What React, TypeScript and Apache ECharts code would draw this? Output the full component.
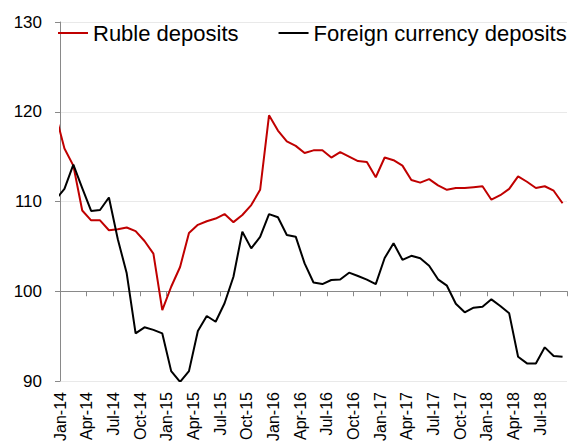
import React, { useEffect, useRef } from "react";
import * as echarts from "echarts";

// Monthly points, Dec-13 (partly visible, clipped at the axis) to Sep-18
const months = [
  "Dec-13",
  "Jan-14","Feb-14","Mar-14","Apr-14","May-14","Jun-14","Jul-14","Aug-14","Sep-14","Oct-14","Nov-14","Dec-14",
  "Jan-15","Feb-15","Mar-15","Apr-15","May-15","Jun-15","Jul-15","Aug-15","Sep-15","Oct-15","Nov-15","Dec-15",
  "Jan-16","Feb-16","Mar-16","Apr-16","May-16","Jun-16","Jul-16","Aug-16","Sep-16","Oct-16","Nov-16","Dec-16",
  "Jan-17","Feb-17","Mar-17","Apr-17","May-17","Jun-17","Jul-17","Aug-17","Sep-17","Oct-17","Nov-17","Dec-17",
  "Jan-18","Feb-18","Mar-18","Apr-18","May-18","Jun-18","Jul-18","Aug-18","Sep-18",
];

const rubleDeposits = [
  119.7,
  115.9, 114.0, 109.0, 107.9, 107.9, 106.8, 106.9, 107.1, 106.7, 105.6, 104.2, 97.9,
  100.5, 102.7, 106.5, 107.4, 107.8, 108.1, 108.6, 107.7, 108.5, 109.6, 111.3, 119.6,
  117.9, 116.7, 116.2, 115.4, 115.7, 115.7, 114.9, 115.5, 115.0, 114.5, 114.4, 112.7,
  114.9, 114.6, 114.0, 112.4, 112.1, 112.5, 111.8, 111.3, 111.5, 111.5, 111.6, 111.7,
  110.2, 110.7, 111.4, 112.8, 112.2, 111.5, 111.7, 111.2, 109.8,
];

const fxDeposits = [
  110.2,
  111.4, 114.1, 111.5, 108.95, 109.05, 110.45, 105.8, 102.0, 95.3, 95.98, 95.7, 95.3,
  91.1, 89.9, 91.1, 95.57, 97.24, 96.6, 98.66, 101.62, 106.64, 104.78, 106.05, 108.6,
  108.24, 106.27, 106.08, 103.1, 100.97, 100.8, 101.25, 101.3, 102.07, 101.7, 101.3, 100.8,
  103.7, 105.34, 103.5, 103.95, 103.67, 102.85, 101.33, 100.62, 98.6, 97.65, 98.17, 98.28,
  99.1, 98.36, 97.54, 92.7, 91.96, 91.96, 93.75, 92.79, 92.7,
];

const tickLabels = [
  "Jan-14","Apr-14","Jul-14","Oct-14",
  "Jan-15","Apr-15","Jul-15","Oct-15",
  "Jan-16","Apr-16","Jul-16","Oct-16",
  "Jan-17","Apr-17","Jul-17","Oct-17",
  "Jan-18","Apr-18","Jul-18",
];

const seriesNames = ["Ruble deposits", "Foreign currency deposits"];
const seriesColors = ["#C00000", "#000000"];
const yMin = 90;
const yMax = 130;
const yInterval = 10;
const axisCross = 100;

const FONT = "'Liberation Sans', Arial, sans-serif";

export default function App() {
  const ref = useRef<HTMLDivElement>(null);

  useEffect(() => {
    if (!ref.current) return;
    const chart = echarts.init(ref.current, undefined, { renderer: "svg" });

    const gridTop = 22;
    const gridBottom = 64;
    const height = 445;
    const gridHeight = height - gridTop - gridBottom;
    const crossOffset = -gridHeight * (axisCross - yMin) / (yMax - yMin);

    // month index: Jan-14 = 0 at the first tick; each point sits mid-month
    const toPoints = (vals: number[]) => vals.map((v, k) => [k - 1 + 0.5, v]);
    const xMax = tickLabels.length * 3;

    chart.setOption({
      animation: false,
      backgroundColor: "#ffffff",
      textStyle: { fontFamily: FONT },
      grid: { left: 60, right: 7, top: gridTop, bottom: gridBottom },
      legend: {
        data: seriesNames,
        left: 58,
        top: 22,
        padding: 0,
        width: 560,
        icon: "rect",
        itemWidth: 30,
        itemHeight: 2,
        itemGap: 40,
        textStyle: { fontSize: 22, color: "#000", fontFamily: FONT },
      },
      xAxis: [
        {
          type: "value",
          min: 0,
          max: xMax,
          interval: 3,
          position: "bottom",
          axisLine: { show: false },
          axisTick: { show: false },
          splitLine: { show: false },
          axisLabel: {
            rotate: 90,
            margin: 11,
            fontSize: 16,
            color: "#000",
            fontFamily: FONT,
            showMaxLabel: false,
            formatter: (v: number) => tickLabels[Math.round(v / 3)] ?? "",
          },
        },
        {
          type: "value",
          min: 0,
          max: xMax,
          interval: 3,
          position: "bottom",
          offset: crossOffset,
          axisLine: { show: true, lineStyle: { color: "#898989", width: 1 } },
          axisTick: { show: true, inside: false, length: 5, lineStyle: { color: "#898989" } },
          axisLabel: { show: false },
          splitLine: { show: false },
        },
      ],
      yAxis: {
        type: "value",
        min: yMin,
        max: yMax,
        interval: yInterval,
        axisLine: { show: true, lineStyle: { color: "#898989", width: 1 } },
        axisTick: { show: true, length: 5, lineStyle: { color: "#898989" } },
        axisLabel: { fontSize: 17, color: "#000", margin: 18, fontFamily: FONT },
        splitLine: { show: true, lineStyle: { color: "#e9e9e9", width: 1 } },
      },
      series: [
        {
          name: seriesNames[0],
          type: "line",
          xAxisIndex: 0,
          data: toPoints(rubleDeposits),
          symbol: "none",
          clip: true,
          lineStyle: { color: seriesColors[0], width: 2 },
          itemStyle: { color: seriesColors[0] },
          z: 3,
        },
        {
          name: seriesNames[1],
          type: "line",
          xAxisIndex: 0,
          data: toPoints(fxDeposits),
          symbol: "none",
          clip: true,
          lineStyle: { color: seriesColors[1], width: 2 },
          itemStyle: { color: seriesColors[1] },
          z: 4,
        },
      ],
    });

    return () => chart.dispose();
  }, []);

  return <div ref={ref} style={{ width: 574, height: 445, position: "absolute", left: 0, top: 0 }} />;
}
